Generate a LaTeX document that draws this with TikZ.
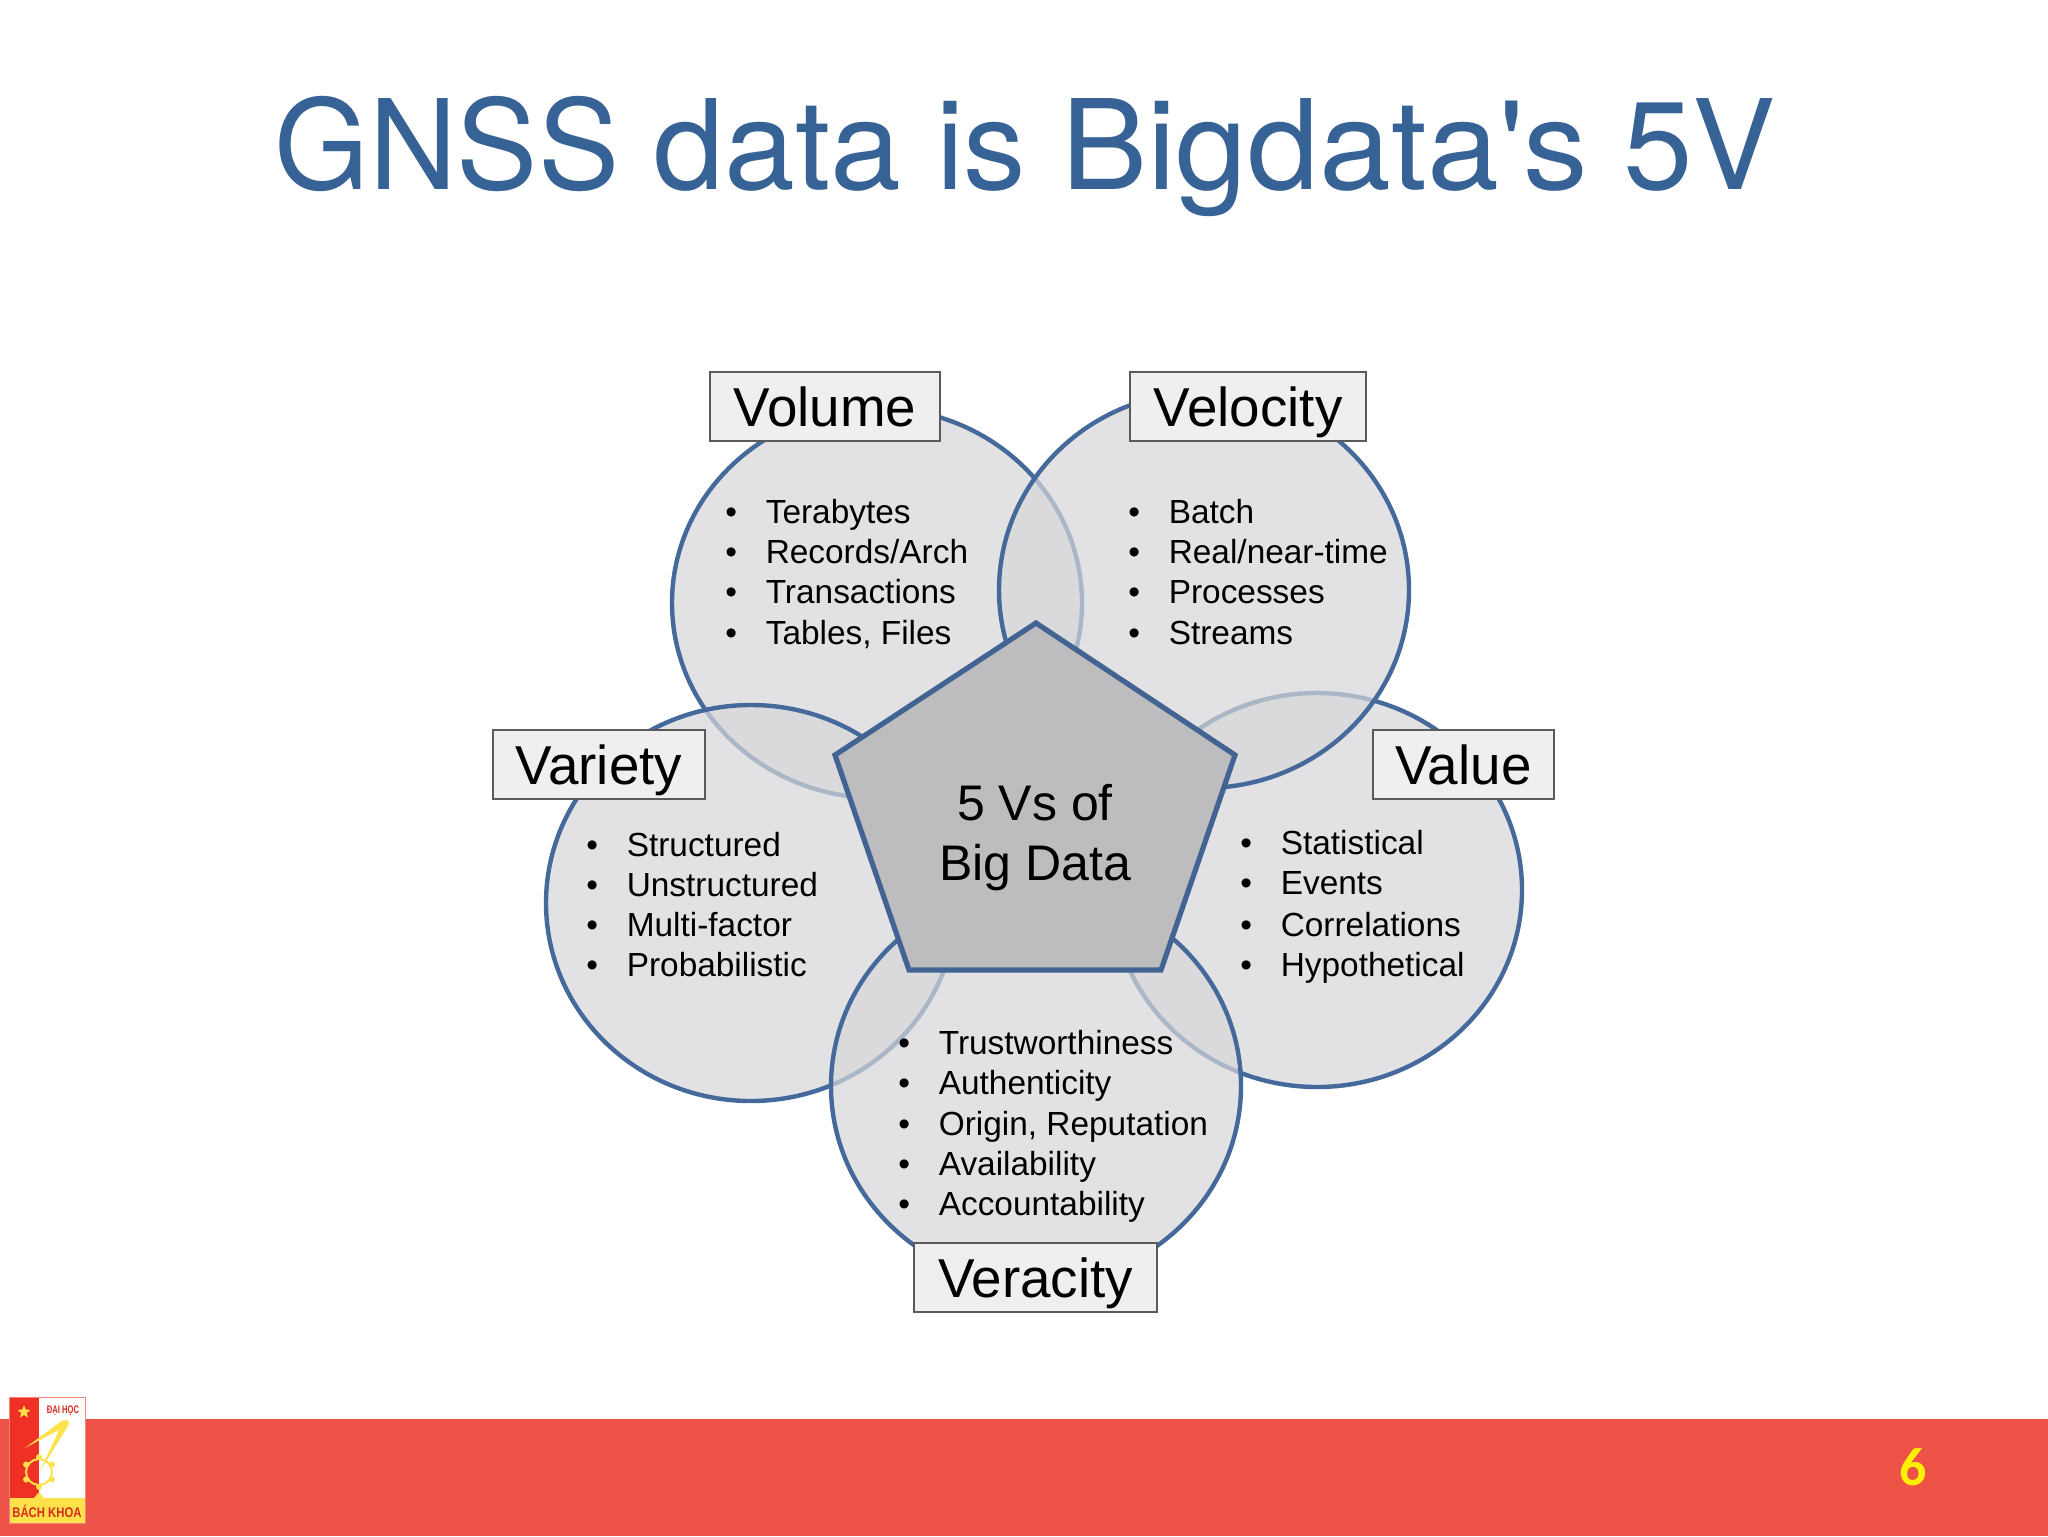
\documentclass[tikz,border=0pt]{standalone}
\usepackage{fontspec}
\usepackage{graphicx}
\setmainfont{Liberation Sans}
\newfontfamily\carlitofont{Carlito}
\newfontfamily\titlefont{TeX Gyre Heros}
\usetikzlibrary{shapes.geometric}
\definecolor{titleblue}{HTML}{376296}
\definecolor{ringblue}{HTML}{44699A}
\definecolor{ringfill}{HTML}{D7D7D9}
\definecolor{pentfill}{HTML}{BDBDC0}
\definecolor{boxfill}{HTML}{EFEFF0}
\definecolor{boxline}{HTML}{5A5A5A}
\definecolor{footred}{HTML}{EC5246}
\definecolor{pageyellow}{HTML}{FFF000}
\definecolor{logored}{HTML}{EE3124}
\definecolor{logoyellow}{HTML}{FFE14A}
\tikzset{
  ring/.style={ellipse,draw=ringblue,line width=2.2pt,fill=ringfill,fill opacity=0.7,inner sep=0pt,minimum width=205pt,minimum height=#1},
  ring/.default=198pt,
  vlabel/.style={rectangle,draw=boxline,line width=1.1pt,fill=boxfill,inner sep=0pt,minimum height=34.5pt,font=\fontsize{27.4}{27.4}\selectfont,text height=19.6pt,text depth=0pt,text=black},
  item/.style={anchor=base west,inner sep=0pt,font=\fontsize{16.7}{20}\selectfont,text=black},
}
\newcommand{\blt}[4]{\node[item] (#1) at (#2,#3) {\makebox[20.2pt][l]{\textbullet}#4};}
\begin{document}
\begin{tikzpicture}[x=0.5pt,y=-0.5pt]
\useasboundingbox (0,0) rectangle (2048,1536);
\fill[white] (0,0) rectangle (2048,1536);
\node[anchor=base,inner sep=0pt,text=titleblue,font=\titlefont\fontsize{62.4}{70}\selectfont] (title) at (1025,189) {\scalebox{.975}[1]{GNSS} \scalebox{1.02}[1]{data} is \scalebox{1.035}[1]{Bigdata's} 5V};

% rings
\node[ring=195pt] (volume) at (877,603) {};
\node[ring=197pt] (value) at (1317,890) {};
\node[ring] (velocity) at (1204,590) {};
\node[ring] (variety) at (751,903) {};
\node[ring] (veracity) at (1036,1086) {};

% pentagon
\draw[fill=pentfill,draw=ringblue!95!black,line width=2.6pt,line join=miter]
  (1036,623) -- (1235,755) -- (1161,970) -- (909,970) -- (835,755) -- cycle;
\node[align=center,inner sep=0pt,font=\fontsize{25}{30}\selectfont,text=black] (centre) at (1035,838) {5 Vs of\\Big Data};

% labels
\node[vlabel,minimum width=115pt] (lvolume) at (825,406.5) {Volume};
\node[vlabel,minimum width=118pt] (lvelocity) at (1248,406.5) {Velocity};
\node[vlabel,minimum width=106pt] (lvariety) at (599,764.5) {Variety};
\node[vlabel,minimum width=90.5pt] (lvalue) at (1463.5,764.5) {Value};
\node[vlabel,minimum width=121.5pt] (lveracity) at (1035.5,1277.5) {Veracity};

% lists
\blt{a1}{725}{523}{Terabytes}
\blt{a2}{725}{563}{Records/Arch}
\blt{a3}{725}{603}{Transactions}
\blt{a4}{725}{644}{Tables, Files}
\blt{b1}{1128}{523}{Batch}
\blt{b2}{1128}{563}{Real/near-time}
\blt{b3}{1128}{603}{Processes}
\blt{b4}{1128}{644}{Streams}
\blt{c1}{586}{856}{Structured}
\blt{c2}{586}{896}{Unstructured}
\blt{c3}{586}{936}{Multi-factor}
\blt{c4}{586}{976}{Probabilistic}
\blt{d1}{1240}{854}{Statistical}
\blt{d2}{1240}{894}{Events}
\blt{d3}{1240}{936}{Correlations}
\blt{d4}{1240}{976}{Hypothetical}
\blt{e1}{898}{1054}{Trustworthiness}
\blt{e2}{898}{1094}{Authenticity}
\blt{e3}{898}{1135}{Origin, Reputation}
\blt{e4}{898}{1175}{Availability}
\blt{e5}{898}{1215}{Accountability}

% footer
\fill[footred] (0,1419) rectangle (2048,1536);
\node[inner sep=0pt,text=pageyellow,font=\carlitofont\bfseries\fontsize{27}{27}\selectfont] (page) at (1913,1467) {6};

% logo
\fill[white] (9,1397) rectangle (85,1498);
\fill[logored] (9,1397) rectangle (39,1498);
\fill[logoyellow] (9,1498) rectangle (85,1523);
\fill[logoyellow] (34,1498) -- (39,1492) -- (44,1498) -- cycle;
\draw[logored!60!white,line width=0.5pt] (9,1397) rectangle (85,1523);
\node[star,star points=5,star point ratio=2.4,fill=logoyellow,inner sep=0pt,minimum size=7pt] (logostar) at (24,1412) {};
\node[inner sep=0pt,text=logored!90!black,font=\bfseries\fontsize{5.5}{6}\selectfont] (logotop) at (63,1411) {\scalebox{0.69}[1]{ĐẠI HỌC}};
\node[inner sep=0pt,text=logored!90!black,font=\bfseries\fontsize{7}{8}\selectfont] (logobottom) at (47,1511) {\scalebox{0.81}[1]{BÁCH KHOA}};
\draw[logoyellow,line width=1pt] (39,1472) circle (13);
\foreach \a in {30,90,...,330} {\fill[logoyellow] (39,1472) ++(\a:15) circle (3);}
\fill[logoyellow] (25,1448) -- (63,1420) -- (66,1426) -- cycle;
\fill[logoyellow] (40,1471) -- (62,1424) -- (68,1426) -- cycle;
\fill[logoyellow] (66,1423) circle (3);
\end{tikzpicture}
\end{document}
